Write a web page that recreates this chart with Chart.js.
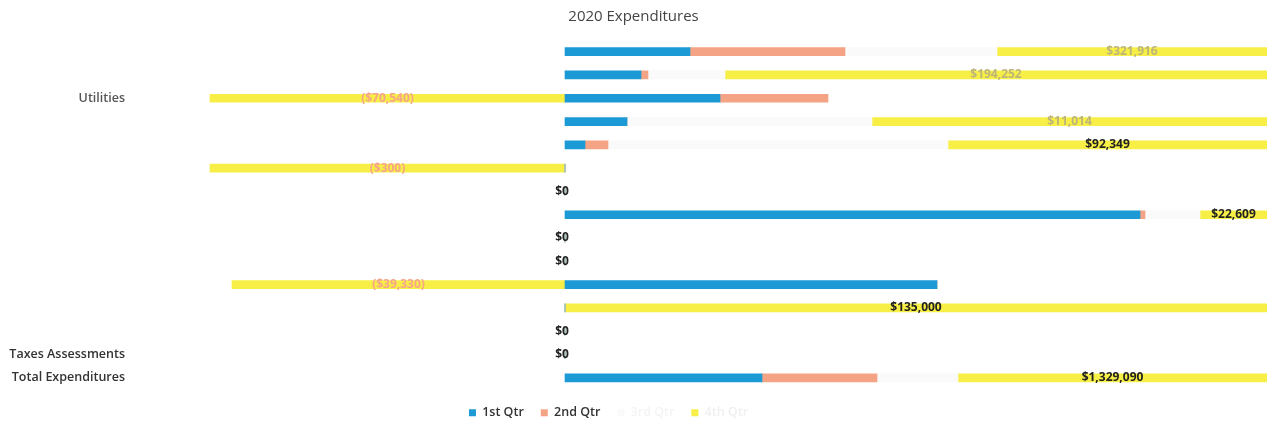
<!DOCTYPE html>
<html>
<head>
<meta charset="utf-8">
<script src="https://cdn.jsdelivr.net/npm/chart.js@4.4.1/dist/chart.umd.min.js"></script>
<style>
  html, body { margin: 0; padding: 0; background: #ffffff; }
  #wrap { width: 1270px; height: 425px; position: relative; }
</style>
</head>
<body>
<div id="wrap"><canvas id="c"></canvas></div>
<script>
// ---- data ----
const categories = ['', '', 'Utilities', '', '', '', '', '', '', '', '', '', '', 'Taxes Assessments', 'Total Expenditures'];
const seriesNames = ['1st Qtr', '2nd Qtr', '3rd Qtr', '4th Qtr'];
const q1 = [25000, 15200, 31000, 12400, 4000, 0, 0, 115000, 0, 0, 74400, 0, 0, 0, 39400];
const q2 = [31000, 1400, 21600, 0, 4600, 0, 0, 1000, 0, 0, 0, 0, 0, 0, 23000];
const q3 = [30400, 15400, 0, 49000, 68000, 0, 0, 11000, 0, 0, 0, 0, 0, 0, 16200];
const q4 = [54000, 108400, -71000, 79000, 63800, -71000, 0, 13400, 0, 0, -66600, 140400, 0, 0, 61800];
const rowTotals = [321916, 194252, -70540, 11014, 92349, -300, 0, 22609, 0, 0, -39330, 135000, 0, 0, 1329090];
const axisMin = -86000;
const axisMax = 140400;

const fmt = v => {
  const s = '$' + Math.abs(v).toLocaleString('en-US');
  return v < 0 ? '(' + s + ')' : s;
};

const fadedRows = [0, 1, 3];

const labelPlugin = {
  id: 'rowLabels',
  afterLayout(chart) {
    // legend group sits left of the page centre in the reference
    const lg = chart.legend;
    if (lg) { lg.left -= 25; lg.right -= 25; }
  },
  afterDatasetsDraw(chart) {
    const ctx = chart.ctx;
    const xs = chart.scales.x;
    const area = chart.chartArea;
    const meta = chart.getDatasetMeta(3);
    ctx.save();
    ctx.font = 'bold 12px "Open Sans", sans-serif';
    ctx.textAlign = 'center';
    ctx.textBaseline = 'middle';
    rowTotals.forEach((v, i) => {
      const el = meta.data[i];
      if (!el) return;
      let x;
      if (q4[i] === 0) {
        x = xs.getPixelForValue(0) - 3;
      } else {
        const a = Math.max(area.left, Math.min(area.right, el.x));
        const b = Math.max(area.left, Math.min(area.right, el.base));
        x = (a + b) / 2;
      }
      let color = '#222222';
      if (v < 0) color = '#f7a58a';
      else if (fadedRows.includes(i)) color = '#bdb57a';
      ctx.fillStyle = color;
      ctx.fillText(fmt(v), x, el.y);
    });
    ctx.restore();
  }
};

const colors = ['#1b9ad6', '#f5a385', '#fafafa', '#f7ef45'];
const legendText = ['#333333', '#333333', '#f4f4f4', '#f0f0f0'];
const series = [q1, q2, q3, q4];

new Chart(document.getElementById('c'), {
  type: 'bar',
  data: {
    labels: categories,
    datasets: series.map((d, k) => ({
      label: seriesNames[k],
      data: d,
      backgroundColor: colors[k],
      borderWidth: 0,
      barThickness: 8
    }))
  },
  options: {
    indexAxis: 'y',
    responsive: true,
    maintainAspectRatio: false,
    animation: false,
    layout: { padding: { left: 0, right: 3, top: 0, bottom: -4 } },
    scales: {
      x: {
        stacked: true,
        min: axisMin,
        max: axisMax,
        display: false,
        grid: { display: false }
      },
      y: {
        stacked: true,
        grid: { display: false, drawTicks: false },
        border: { display: false },
        afterFit(scale) { scale.width = 135; },
        ticks: {
          padding: 10,
          font: { family: '"Open Sans", sans-serif', size: 12.5, weight: '600' },
          color: ctx => ctx.index === 2 ? '#555555' : '#333333'
        }
      }
    },
    plugins: {
      title: {
        display: true,
        text: '2020 Expenditures',
        color: '#444444',
        font: { family: '"Open Sans", sans-serif', size: 15, weight: 'normal' },
        padding: { top: 8, bottom: 14 }
      },
      legend: {
        position: 'bottom',
        labels: {
          boxWidth: 7,
          boxHeight: 7,
          padding: 17,
          font: { family: '"Open Sans", sans-serif', size: 12.5, weight: '600' },
          generateLabels(chart) {
            return chart.data.datasets.map((ds, k) => ({
              text: ds.label,
              fillStyle: ds.backgroundColor,
              strokeStyle: ds.backgroundColor,
              lineWidth: 0,
              fontColor: legendText[k],
              datasetIndex: k,
              hidden: false
            }));
          }
        }
      },
      tooltip: { enabled: false }
    }
  },
  plugins: [labelPlugin]
});
</script>
</body>
</html>
